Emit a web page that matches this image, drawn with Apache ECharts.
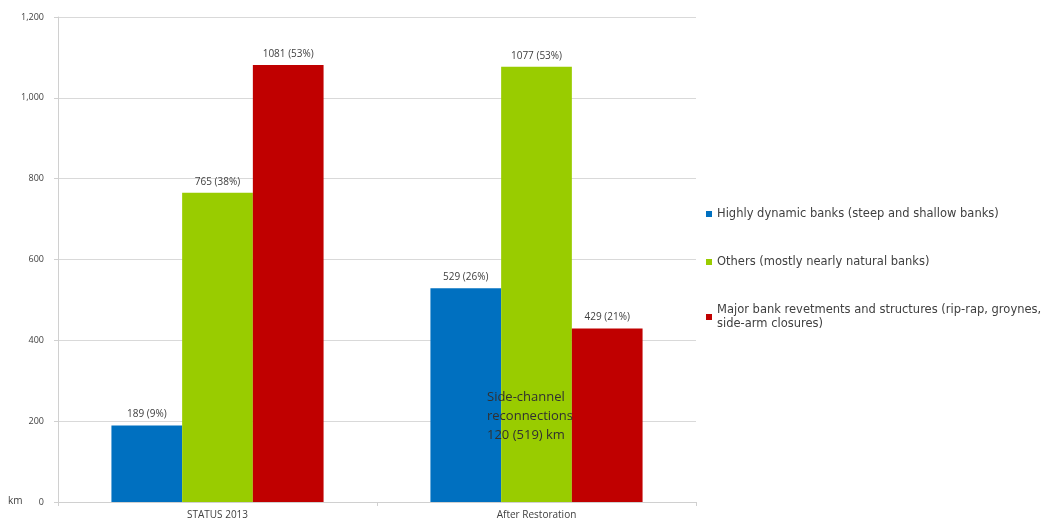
<!DOCTYPE html>
<html>
<head>
<meta charset="utf-8">
<script src="https://cdn.jsdelivr.net/npm/echarts@6/dist/echarts.min.js"></script>
<style>
  html, body { margin: 0; padding: 0; background: #fff; }
  #chart { width: 1063px; height: 529px; }
</style>
</head>
<body>
<div id="chart"></div>
<script>
// Bank length categories per river state (km)
const categories = ['STATUS 2013', 'After Restoration'];
const seriesNames = [
  'Highly dynamic banks (steep and shallow banks)',
  'Others (mostly nearly natural banks)',
  'Major bank revetments and structures (rip-rap, groynes,\nside-arm closures)'
];
const dynamicBanks = [189, 529];
const otherBanks = [765, 1077];
const revetments = [1081, 429];
const dynamicPct = ['9%', '26%'];
const otherPct = ['38%', '53%'];
const revetPct = ['53%', '21%'];
const yTicks = [0, 200, 400, 600, 800, 1000, 1200];
const note = 'Side-channel\nreconnections\n120 (519) km';

const colors = ['#0070C0', '#99CC00', '#C00000'];
const font = '"Open Sans", "Liberation Sans", sans-serif';

function makeSeries(name, values, pct, color) {
  return {
    name: name,
    type: 'bar',
    data: values,
    barGap: '0%',
    barCategoryGap: '33.5%',
    itemStyle: { color: color },
    label: {
      show: true,
      position: 'top',
      distance: 6,
      fontFamily: font,
      fontSize: 10,
      color: '#404040',
      formatter: p => values[p.dataIndex] + ' (' + pct[p.dataIndex] + ')'
    }
  };
}

const chart = echarts.init(document.getElementById('chart'), null, { renderer: 'canvas' });
chart.setOption({
  animation: false,
  textStyle: { fontFamily: font },
  grid: { left: 58, right: 367, top: 17, bottom: 27, containLabel: false },
  xAxis: {
    type: 'category',
    data: categories,
    axisLine: { lineStyle: { color: '#d0d0d0' } },
    axisTick: { show: true, length: 4, lineStyle: { color: '#d0d0d0' } },
    axisLabel: { color: '#404040', fontSize: 10, margin: 8, fontFamily: font }
  },
  yAxis: {
    type: 'value',
    min: yTicks[0],
    max: yTicks[yTicks.length - 1],
    interval: 200,
    axisLine: { show: true, lineStyle: { color: '#d0d0d0' } },
    axisTick: { show: true, length: 4, lineStyle: { color: '#d0d0d0' } },
    splitLine: { lineStyle: { color: '#d9d9d9' } },
    axisLabel: {
      color: '#404040',
      fontSize: 9,
      margin: 14,
      fontFamily: font,
      formatter: v => v.toLocaleString('en-US')
    }
  },
  legend: {
    orient: 'vertical',
    left: 701,
    top: 202,
    itemWidth: 6,
    itemHeight: 6,
    itemGap: 34,
    icon: 'rect',
    textStyle: { fontSize: 11.5, color: '#404040', fontFamily: '"DejaVu Sans", sans-serif', lineHeight: 14 },
    data: seriesNames
  },
  graphic: [
    {
      type: 'text',
      left: 8,
      top: 496,
      z: 100,
      style: { text: 'km', fontSize: 10, fill: '#404040', fontFamily: font }
    },
    {
      type: 'text',
      left: 487,
      top: 388,
      z: 100,
      style: { text: note, fontSize: 13, lineHeight: 19, fill: '#303030', fontFamily: font }
    }
  ],
  series: [
    makeSeries(seriesNames[0], dynamicBanks, dynamicPct, colors[0]),
    makeSeries(seriesNames[1], otherBanks, otherPct, colors[1]),
    makeSeries(seriesNames[2], revetments, revetPct, colors[2])
  ]
});
</script>
</body>
</html>
